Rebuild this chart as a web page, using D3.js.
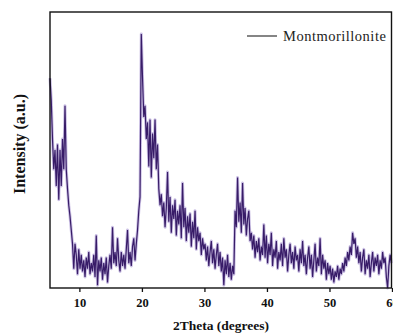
<!DOCTYPE html>
<html>
<head>
<meta charset="utf-8">
<script src="https://cdn.jsdelivr.net/npm/d3@7"></script>
<style>
  html, body { margin: 0; padding: 0; background: #fff; overflow: hidden; }
  svg { display: block; }
</style>
</head>
<body>
<div id="chart"></div>
<script>
// ---- data ----
const seriesName = "Montmorillonite";
const angleStart = 5.3;   // 2Theta of first sample (degrees)
const angleStep = 0.2;    // sampling step (degrees)
const intensity = [
  76, 68, 54, 43, 50, 37, 52, 32, 50, 37, 54, 43, 66, 43, 36, 30, 26, 21, 16, 7, 16,
  12, 5, 14, 7, 12, 6, 10, 4, 11, 7, 13, 5, 9, 6, 12, 4, 19, 1, 10, 6, 11, 3, 9, 5,
  11, 2, 8, 12, 7, 22, 9, 13, 8, 18, 10, 6, 13, 8, 12, 7, 14, 21, 9, 13, 8, 15, 18, 10, 16,
  21, 28, 33, 92, 76, 62, 66, 54, 60, 44, 61, 40, 56, 47, 61, 43, 52, 36, 30,
  34, 26, 31, 22, 29, 42, 24, 33, 20, 30, 25, 32, 19, 28, 23, 30, 18, 38, 22, 29, 17,
  26, 20, 27, 15, 24, 18, 28, 14, 22, 17, 20, 12, 18, 14,
  16, 10, 15, 8, 13, 17, 9, 14, 7, 12, 16, 8, 13, 6, 11, 1, 10, 5, 12, 4, 9, 3, 8, 5,
  28, 22, 40, 24, 31, 20, 38, 23, 29, 19, 25, 28, 17,
  20, 14, 19, 11, 17, 13, 18, 10, 15, 12, 23, 11, 19, 9, 16, 12, 20, 8, 14, 11, 17, 7,
  13, 10, 16, 8, 18, 11, 14, 6, 12, 16, 9, 13, 7, 15, 10, 12, 6, 14, 9, 17, 8, 12, 5,
  11, 15, 7, 12, 4, 10, 16, 6, 11, 8, 18, 5, 12, 7, 10, 3, 9,
  5, 8, 3, 7, 2, 6, 4, 8, 3, 7, 5, 9, 6, 11,
  8, 13, 10, 15, 12, 20, 16, 18, 11, 15,
  9, 13, 6, 11, 14, 5, 10, 7, 12, 4, 9, 13, 6, 11, 8, 12, 5, 10, 7, 13, 9, 11, 4, 0, 8, 12, 9
];
const xTicks = [10, 20, 30, 40, 50, 60];
const xDomain = [5.3, 60];
const yDomain = [0, 100];

// ---- chart ----
const W = 393, H = 335;
const m = { left: 50, right: 1, top: 12, bottom: 47 };
const svg = d3.select("#chart").append("svg").attr("width", W).attr("height", H);

const x = d3.scaleLinear().domain(xDomain).range([m.left, W - m.right]);
const y = d3.scaleLinear().domain(yDomain).range([H - m.bottom, m.top]);

const pts = intensity.map((v, i) => ({ a: angleStart + i * angleStep, v }));

const line = d3.line().x(d => x(d.a)).y(d => y(d.v));

svg.append("path").datum(pts)
  .attr("d", line).attr("fill", "none")
  .attr("stroke", "#a996d2").attr("stroke-width", 3).attr("stroke-opacity", 0.6)
  .attr("stroke-linejoin", "round");
svg.append("path").datum(pts)
  .attr("d", line).attr("fill", "none")
  .attr("stroke", "#381c68").attr("stroke-width", 1.2)
  .attr("stroke-linejoin", "miter");

// frame
svg.append("rect")
  .attr("x", m.left).attr("y", m.top)
  .attr("width", x(xDomain[1]) - m.left - 0.5)
  .attr("height", (H - m.bottom) - m.top)
  .attr("fill", "none").attr("stroke", "#111").attr("stroke-width", 1.4);

// x axis
const xAxis = d3.axisBottom(x).tickValues(xTicks).tickSize(4).tickPadding(6).tickFormat(d3.format("d"));
const gx = svg.append("g").attr("transform", `translate(0,${H - m.bottom})`).call(xAxis);
gx.select(".domain").remove();
gx.selectAll(".tick line").attr("stroke", "#111").attr("stroke-width", 1.3);
gx.selectAll(".tick text")
  .attr("font-family", "'Liberation Serif', 'Times New Roman', serif")
  .attr("font-weight", "bold").attr("font-size", 12.5).attr("fill", "#111");

// axis titles
svg.append("text")
  .attr("x", 221).attr("y", 330)
  .attr("text-anchor", "middle")
  .attr("font-family", "'Liberation Serif', 'Times New Roman', serif")
  .attr("font-weight", "bold").attr("font-size", 13.5).attr("fill", "#111")
  .text("2Theta (degrees)");

svg.append("text")
  .attr("transform", "translate(25,144) rotate(-90)")
  .attr("text-anchor", "middle")
  .attr("font-family", "'Liberation Serif', 'Times New Roman', serif")
  .attr("font-weight", "bold").attr("font-size", 16).attr("fill", "#111")
  .text("Intensity (a.u.)");

// legend
svg.append("line")
  .attr("x1", 247).attr("x2", 277).attr("y1", 36).attr("y2", 36)
  .attr("stroke", "#222").attr("stroke-width", 1.1);
svg.append("text")
  .attr("x", 283).attr("y", 40.5)
  .attr("font-family", "'Liberation Serif', 'Times New Roman', serif")
  .attr("font-size", 14.5).attr("letter-spacing", 0.5).attr("fill", "#222")
  .text(seriesName);
</script>
</body>
</html>
